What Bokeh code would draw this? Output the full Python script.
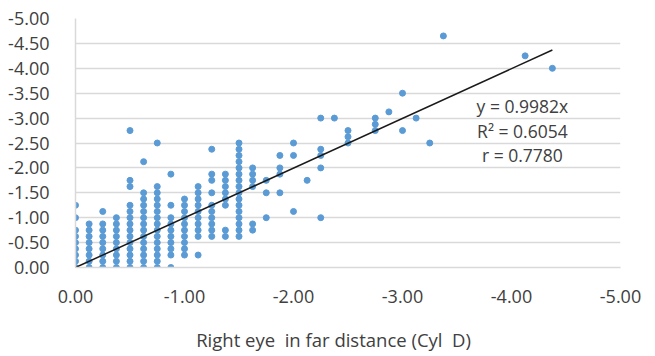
from bokeh.plotting import figure
from bokeh.models import Range1d, FixedTicker, NumeralTickFormatter, Label, ColumnDataSource
from bokeh.embed import file_html
from bokeh.resources import INLINE

# Right eye far distance Cyl (x) vs paired measurement (y), grouped by x value
col_x = [0.0, -0.125, -0.25, -0.375, -0.5, -0.625, -0.75, -0.875, -1.0, -1.125,
         -1.25, -1.375, -1.5, -1.625, -1.75, -1.875, -2.0, -2.125, -2.25, -2.375,
         -2.5, -2.75, -2.875, -3.0, -3.125, -3.25, -3.375, -4.125, -4.375]
col_y = [
    [0, -0.125, -0.25, -0.375, -0.5, -0.625, -0.75, -1.0, -1.25],
    [0, -0.125, -0.25, -0.375, -0.5, -0.625, -0.75, -0.875],
    [0, -0.125, -0.25, -0.375, -0.5, -0.625, -0.75, -0.875, -1.125],
    [0, -0.125, -0.25, -0.375, -0.5, -0.625, -0.75, -0.875, -1.0],
    [0, -0.125, -0.25, -0.375, -0.5, -0.625, -0.75, -0.875, -1.0, -1.125, -1.25, -1.625, -1.75, -2.75],
    [0, -0.125, -0.25, -0.375, -0.5, -0.625, -0.75, -0.875, -1.0, -1.125, -1.25, -1.375, -1.5, -2.125],
    [0, -0.125, -0.25, -0.375, -0.5, -0.625, -0.75, -0.875, -1.0, -1.125, -1.25, -1.375, -1.5, -1.625, -2.5],
    [0, -0.25, -0.375, -0.5, -0.625, -0.75, -0.875, -1.0, -1.25, -1.875],
    [-0.25, -0.375, -0.5, -0.625, -0.75, -0.875, -1.0, -1.125, -1.25, -1.375],
    [-0.25, -0.625, -0.75, -0.875, -1.0, -1.125, -1.25, -1.375, -1.5, -1.625],
    [-0.625, -0.75, -0.875, -1.0, -1.125, -1.25, -1.5, -1.75, -1.875, -2.375],
    [-0.625, -0.75, -1.25, -1.375, -1.5, -1.625, -1.75, -1.875],
    [-0.625, -0.75, -0.875, -1.0, -1.125, -1.25, -1.375, -1.5, -1.625, -1.75, -1.875, -2.0, -2.125, -2.25, -2.375, -2.5],
    [-0.75, -0.875, -1.625, -1.75, -1.875, -2.0],
    [-1.0, -1.5, -1.75],
    [-1.5, -1.875, -2.0, -2.25],
    [-1.125, -2.25, -2.5],
    [-1.75],
    [-1.0, -2.0, -2.25, -2.375, -3.0],
    [-3.0],
    [-2.5, -2.625, -2.75],
    [-2.75, -2.875, -3.0],
    [-3.125],
    [-2.75, -3.5],
    [-3.0],
    [-2.5],
    [-4.65],
    [-4.25],
    [-4.0],
]
slope = 0.9982
eq_lines = ["y = 0.9982x", "R\u00b2 = 0.6054", "r = 0.7780"]
axis_ticks = [0.0, -0.5, -1.0, -1.5, -2.0, -2.5, -3.0, -3.5, -4.0, -4.5, -5.0]
x_ticks = [0.0, -1.0, -2.0, -3.0, -4.0, -5.0]

xs, ys = [], []
for cx, cys in zip(col_x, col_y):
    for cy in cys:
        xs.append(cx)
        ys.append(cy)
src = ColumnDataSource(dict(x=xs, y=ys))

FONT = "Open Sans"
LABEL_COLOR = "#404040"

p = figure(width=647, height=354, output_backend="svg", toolbar_location=None,
           x_range=Range1d(0, -5), y_range=Range1d(0, -5),
           min_border_left=75, min_border_right=27, min_border_top=18, min_border_bottom=86)
p.outline_line_color = None
p.background_fill_color = "white"

p.scatter("x", "y", source=src, size=6, fill_color="#5B9BD5", line_color="#5B9BD5")

x_end = min(col_x)
p.line([0, x_end], [0, slope * x_end], line_color="#1a1a1a", line_width=1.5)

for i, t in enumerate(eq_lines):
    p.add_layout(Label(x=-4.10, y=-3.24 + 0.49 * i, text=t, text_align="center",
                       text_baseline="middle", text_font=FONT, text_font_size="17.5px",
                       text_color="#404040"))

p.yaxis.ticker = FixedTicker(ticks=axis_ticks)
p.xaxis.ticker = FixedTicker(ticks=x_ticks)
for ax in (p.xaxis, p.yaxis):
    ax.formatter = NumeralTickFormatter(format="0.00")
    ax.major_tick_line_color = None
    ax.minor_tick_line_color = None
    ax.axis_line_color = "#D9D9D9"
    ax.axis_line_width = 1.5
    ax.major_label_text_font = FONT
    ax.major_label_text_font_size = "18px"
    ax.major_label_text_color = LABEL_COLOR
p.xaxis.major_label_standoff = 16
p.yaxis.major_label_standoff = 20

p.xaxis.axis_label = "Right eye\u00a0 in far distance (Cyl\u00a0 D)" + "\u00a0" * 6
p.xaxis.axis_label_text_font = FONT
p.xaxis.axis_label_text_font_size = "18.5px"
p.xaxis.axis_label_text_font_style = "normal"
p.xaxis.axis_label_text_color = LABEL_COLOR
p.xaxis.axis_label_standoff = 21

p.xgrid.grid_line_color = None
p.ygrid.ticker = FixedTicker(ticks=axis_ticks)
p.ygrid.grid_line_color = "#D9D9D9"
p.ygrid.grid_line_width = 1.5

open("out.html", "w").write(file_html(p, INLINE))
